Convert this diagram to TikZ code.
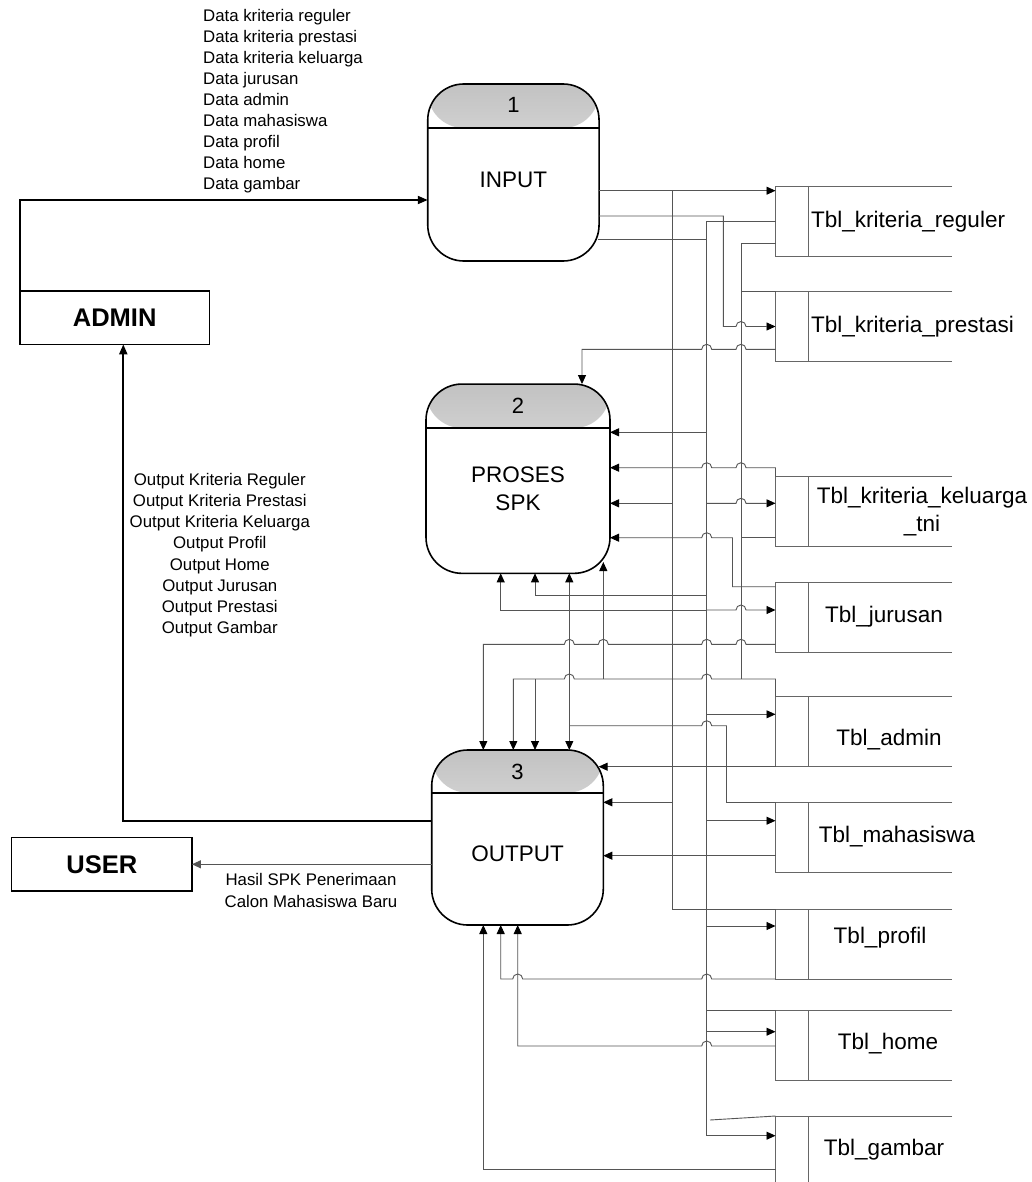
\documentclass[tikz,border=0pt]{standalone}
\usepackage{fontspec}
\setmainfont{Liberation Sans}
\usepackage{tikz}
\usetikzlibrary{arrows.meta,positioning,calc}
\definecolor{flowgray}{HTML}{555555}
\definecolor{storegray}{HTML}{666666}
% line hops over a crossing line (rightwards / leftwards)
\newcommand{\hopr}[2]{-- ({#1-5},#2) arc[start angle=180,end angle=360,radius=5]}
\newcommand{\hopl}[2]{-- ({#1+5},#2) arc[start angle=0,end angle=-180,radius=5]}
\tikzset{
  procbox/.style={draw=black,line width=1.6pt,rounded corners=36pt,inner sep=0pt,outer sep=0pt,
    path picture={\shade[top color=black!24,bottom color=black!2]
      (path picture bounding box.north west) rectangle ([yshift=-#1]path picture bounding box.north east);}},
  procnum/.style={font=\fontsize{22}{26}\selectfont},
  proctext/.style={font=\fontsize{22.5}{28}\selectfont,align=center,inner sep=0pt},
  entity/.style={draw=black,line width=1.4pt,inner sep=0pt,outer sep=0pt,
    font=\fontsize{25.5}{30}\selectfont\bfseries},
  store/.style={anchor=north west,minimum width=176.5,minimum height=70,inner sep=0pt,outer sep=0pt},
  storeline/.style={draw=storegray,line width=0.9pt},
  tbllabel/.style={font=\fontsize{22.5}{28}\selectfont,align=center,inner sep=0pt},
  flowlabel/.style={font=\fontsize{16.8}{21.1}\selectfont,inner sep=0pt},
  flow/.style={draw=flowgray,line width=0.9pt,-{Triangle[length=9pt,width=8pt,color=black]}},
  link/.style={draw=flowgray,line width=0.9pt},
  heavyflow/.style={draw=black,line width=2pt,-{Triangle[length=10pt,width=8pt]}},
  userflow/.style={draw=flowgray,line width=1.1pt,-{Triangle[length=9pt,width=8pt,color=flowgray]}}
}
\begin{document}
\begin{tikzpicture}[x=1pt,y=-1pt]
  \fill[white] (0,0) rectangle (1032,1182);
  \useasboundingbox (0,0) rectangle (1032,1182);

  % processes
  \node[procbox=44pt,minimum width=171.3,minimum height=177] (p1) at (513.4,172.5) {};
  \node[procbox=44pt,minimum width=184,minimum height=189.3] (p2) at (518,478.7) {};
  \node[procbox=42.7pt,minimum width=171.6,minimum height=175] (p3) at (517.5,837.5) {};
  \draw[line width=1.6pt] ([yshift=-44pt]p1.north west) -- ([yshift=-44pt]p1.north east);
  \draw[line width=1.6pt] ([yshift=-44pt]p2.north west) -- ([yshift=-44pt]p2.north east);
  \draw[line width=1.6pt] ([yshift=-42.7pt]p3.north west) -- ([yshift=-42.7pt]p3.north east);
  \node[procnum] (n1) at ([yshift=-21pt]p1.north) {1};
  \node[procnum] (n2) at ([yshift=-22pt]p2.north) {2};
  \node[procnum] (n3) at ([yshift=-21.7pt]p3.north) {3};
  \node[proctext] (t1) at (p1.center |- 0,180) {INPUT};
  \node[proctext] (t2) at (p2.center |- 0,489) {PROSES\\SPK};
  \node[proctext] (t3) at (p3.center |- 0,853.3) {OUTPUT};

  % external entities
  \node[entity,minimum width=189.3,minimum height=53.3] (admin) at (114.7,317.7) {ADMIN};
  \node[entity,minimum width=180.3,minimum height=53.3] (user) at (101.8,864.3) {USER};

  % data stores
  \foreach \nm/\ty in {tReg/186,tPres/291.5,tKel/476.7,tJur/582.3,tAdm/696.7,tMhs/802.5,tPro/909,tHom/1010,tGam/1116}
    \node[store] (\nm) at (775.5,\ty) {};
  \foreach \nm in {tReg,tPres,tKel,tJur,tAdm,tMhs,tPro,tHom,tGam}{
    \draw[storeline] (\nm.north east) -- (\nm.north west) -- (\nm.south west) -- (\nm.south east);
    \draw[storeline] ([xshift=33pt]\nm.north west) -- ([xshift=33pt]\nm.south west);
  }
  \node[tbllabel,anchor=west] (lReg) at (811,222) {Tbl\_kriteria\_reguler};
  \node[tbllabel,anchor=west] (lPres) at (811,327) {Tbl\_kriteria\_prestasi};
  \node[tbllabel] (lKel) at (922,512) {Tbl\_kriteria\_keluarga\\\_tni};
  \node[tbllabel] (lJur) at (884,617) {Tbl\_jurusan};
  \node[tbllabel] (lAdm) at (889,740) {Tbl\_admin};
  \node[tbllabel] (lMhs) at (897,837) {Tbl\_mahasiswa};
  \node[tbllabel] (lPro) at (880,938) {Tbl\_profil};
  \node[tbllabel] (lHom) at (888,1044) {Tbl\_home};
  \node[tbllabel] (lGam) at (884,1150) {Tbl\_gambar};

  % bus columns
  \coordinate (busA) at (672.5,0);
  \coordinate (busB) at (706.7,0);
  \coordinate (busC) at (741,0);

  % entities <-> processes
  \draw[heavyflow] (admin.north west) -- (admin.north west |- 0,200) -- (p1.west |- 0,200);
  \draw[heavyflow] (p3.west |- 0,820.7) -- (123.3,820.7) -- (123.3,0 |- admin.south);
  \draw[userflow] (p3.west |- user.east) -- (user.east);
  \node[flowlabel,anchor=west,align=left] (dlab) at (203,101.2) {Data kriteria reguler\\Data kriteria prestasi\\Data kriteria keluarga\\Data jurusan\\Data admin\\Data mahasiswa\\Data profil\\Data home\\Data gambar};
  \node[flowlabel,align=center] (olab) at (219.8,555.2) {Output Kriteria Reguler\\Output Kriteria Prestasi\\Output Kriteria Keluarga\\Output Profil\\Output Home\\Output Jurusan\\Output Prestasi\\Output Gambar};
  \node[flowlabel,align=center,font=\fontsize{16.8}{21.7}\selectfont] (hlab) at (311,890.8) {Hasil SPK Penerimaan\\Calon Mahasiswa Baru};

  % from INPUT
  \draw[flow] (p1.east |- 0,190.7) -- (tReg.west |- 0,190.7);
  \draw[flow] (p1.east |- 0,216) -- (723.3,216) -- (723.3,0 |- tPres.west) \hopr{741}{326.5} -- (tPres.west);
  \draw[link] (597.8,239) -- (busB |- 0,239);
  \draw[link] (busA |- 0,190.7) -- (busA |- tPro.north) -- (tPro.north west);
  \draw[flow] (tReg.west) -- (busB |- tReg.west) -- (busB |- 0,1135.7) -- (tGam.west |- 0,1135.7);
  \draw[link] (tReg.west |- 0,243) -- (busC |- 0,243) -- (busC |- 0,679);
  \draw[link] (busC |- tPres.north) -- (tPres.north west);

  % to PROSES SPK
  \draw[flow] (tPres.west |- 0,349.3) \hopl{741}{349.3} \hopl{706.7}{349.3} -- (582,349.3) -- (582,0 |- p2.north);
  \draw[flow] (busB |- 0,432.3) -- (p2.east |- 0,432.3);
  \draw[flow] (tKel.north west) -- (775.5,467.7) \hopl{741}{467.7} \hopl{706.7}{467.7} -- (p2.east |- 0,467.7);
  \draw[flow] (busA |- 0,503.3) -- (p2.east |- 0,503.3);
  \draw[flow] (busB |- 0,503.3) \hopr{741}{503.3} -- (tKel.west |- 0,503.3);
  \draw[flow] (tJur.west |- 0,586.7) -- (732.5,586.7) -- (732.5,537.7) \hopl{706.7}{537.7} -- (p2.east |- 0,537.7);
  \draw[link] (busC |- 0,537.7) -- (tKel.west |- 0,537.7);
  \draw[flow] (busB |- 0,595) -- (535,595) -- (535,0 |- p2.south);
  \draw[flow] (busB |- 0,610) -- (500.7,610) -- (500.7,0 |- p2.south);
  \draw[flow] (busB |- 0,610) \hopr{741}{610} -- (tJur.west |- 0,610);

  % to OUTPUT
  \draw[flow] (tJur.west |- 0,644.3) \hopl{741}{644.3} \hopl{706.7}{644.3} \hopl{603.3}{644.3} \hopl{569.3}{644.3} -- (483.3,644.3) -- (483.3,0 |- p3.north);
  \draw[flow] (tAdm.north west) -- (775.5,679) \hopl{706.7}{679} \hopl{569.3}{679} -- (513.3,679) -- (513.3,0 |- p3.north);
  \draw[flow] (535,679) -- (535,0 |- p3.north);
  \draw[flow] (603.3,679) -- (603.3,562);
  \draw[link] (tMhs.north west) -- (726.5,0 |- tMhs.north) -- (726.5,725.7) \hopl{706.7}{725.7} -- (569.3,725.7);
  \draw[flow] (569.3,725.7) -- (569.3,0 |- p2.south);
  \draw[flow] (569.3,725.7) -- (569.3,0 |- p3.north);
  \draw[flow] (busB |- 0,714.3) -- (tAdm.west |- 0,714.3);
  \draw[flow] (tAdm.south west) -- (598.6,766.7);
  \draw[flow] (busA |- 0,802.3) -- (p3.east |- 0,802.3);
  \draw[flow] (busB |- 0,820.7) -- (tMhs.west |- 0,820.7);
  \draw[flow] (tMhs.west |- 0,855.7) -- (p3.east |- 0,855.7);
  \draw[flow] (busB |- 0,926) -- (tPro.west |- 0,926);
  \draw[flow] (tPro.south west) \hopl{706.7}{979} \hopl{517.7}{979} -- (500.7,979) -- (500.7,0 |- p3.south);
  \draw[link] (busB |- tHom.north) -- (tHom.north west);
  \draw[flow] (busB |- 0,1031.7) -- (tHom.west |- 0,1031.7);
  \draw[flow] (tHom.west |- 0,1046) \hopl{706.7}{1046} -- (517.7,1046) -- (517.7,0 |- p3.south);
  \draw[link] (710,1120) -- (tGam.north west);
  \draw[flow] (tGam.west |- 0,1169.3) -- (483.3,1169.3) -- (483.3,0 |- p3.south);
\end{tikzpicture}
\end{document}
